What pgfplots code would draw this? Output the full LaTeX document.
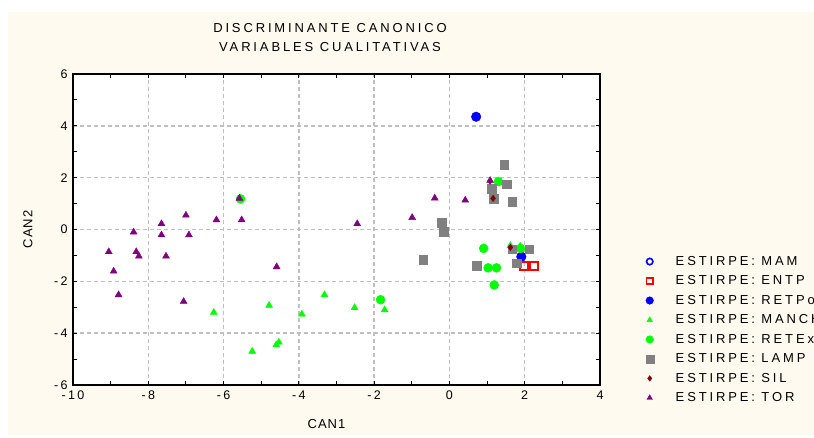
\documentclass[border=0pt]{standalone}
\usepackage{pgfplots}
\pgfplotsset{compat=1.18}
\usepackage{fontspec}
\setmainfont{Liberation Sans}
\newfontfamily\spaced{Liberation Sans}[LetterSpace=18]
\newfontfamily\spacedg{Liberation Sans}[LetterSpace=22]
\newfontfamily\spacedt{Liberation Sans}[LetterSpace=22]
\newfontfamily\spacedl{Liberation Sans}[LetterSpace=8]
\definecolor{cream}{HTML}{FFFAF0}
\definecolor{tor}{HTML}{800080}
\definecolor{sil}{HTML}{800000}
\definecolor{lgreen}{HTML}{00FF00}
\definecolor{lamp}{HTML}{808080}
\begin{document}
\begin{tikzpicture}[x=1pt,y=1pt]
\clip (0,0) rectangle (814,437);
\fill[white] (0,0) rectangle (814,437);
\fill[cream] (8,2) rectangle (814,425);
\node[font=\spacedt\fontsize{13}{15}\selectfont] at (330,409) {DISCRIMINANTE CANONICO};
\node[font=\spacedt\fontsize{13}{15}\selectfont] at (330,390) {VARIABLES CUALITATIVAS};
\begin{axis}[
  at={(73pt,52pt)}, anchor=south west,
  scale only axis, width=527pt, height=311pt,
  xmin=-10, xmax=4, ymin=-6, ymax=6,
  xtick={-10,-8,-6,-4,-2,0,2,4},
  xticklabels={-10,-8,-6,-4,-2,0,2,4},
  ytick={-6,-4,-2,0,2,4,6},
  yticklabels={-6,-4,-2,0,2,4,6},
  minor x tick num=1, minor y tick num=1,
  tick align=inside,
  major tick length=4pt, minor tick length=4pt,
  tick style={black, line width=1pt},
  axis line style={black, line width=1.8pt},
  grid=major,
  major grid style={black!25, dash pattern=on 4pt off 3pt, line width=1.4pt},
  axis background/.style={fill=white},
  ticklabel style={font=\spaced\fontsize{12.5}{14}\selectfont},
  xticklabel style={yshift=-2pt},
  yticklabel style={xshift=-2pt},
  xlabel={CAN1}, ylabel={CAN2},
  label style={font=\spacedl\fontsize{13}{15}\selectfont},
  xlabel style={at={(0.481,0)}, anchor=center, yshift=-39pt},
  ylabel style={at={(0,0.5)}, anchor=center, rotate=0, yshift=45pt},
  clip=false,
  legend style={at={(1.0864,0.421)}, anchor=north west, draw=none, fill=none,
    font=\spacedg\fontsize{13}{15}\selectfont, row sep=4.9pt, inner sep=0pt,
    /tikz/every odd column/.append style={column sep=20pt}},
  legend cell align=left,
]
% ENTP
\addplot[only marks, mark=square, mark size=4pt, red, line width=2pt, forget plot] coordinates {
(1.98,-1.39) (2.25,-1.39)};
% RETPo
\addplot[only marks, mark=*, mark size=4.8pt, blue, forget plot] coordinates {
(0.71,4.35) (1.91,-1.05)};
% MANCH
\addplot[only marks, mark=triangle*, mark size=4pt, lgreen, forget plot] coordinates {
(-6.26,-3.20) (-4.79,-2.93) (-3.92,-3.27) (-3.32,-2.52) (-2.52,-3.02) (-1.72,-3.10)
(-4.53,-4.35) (-4.60,-4.45) (-5.24,-4.70) (1.62,-0.62) (1.88,-0.65)};
% RETExt
\addplot[only marks, mark=*, mark size=4.5pt, lgreen, forget plot] coordinates {
(-5.55,1.18) (-1.83,-2.71) (1.30,1.85) (0.91,-0.73) (1.89,-0.73) (1.03,-1.48) (1.25,-1.48) (1.19,-2.14)};
% LAMP
\addplot[only marks, mark=square*, mark size=4.2pt, lamp, forget plot] coordinates {
(1.45,2.50) (1.12,1.57) (1.52,1.75) (1.18,1.19) (1.66,1.08) (-0.21,0.26) (-0.15,-0.08)
(-0.69,-1.16) (1.66,-0.75) (2.12,-0.75) (1.79,-1.31) (0.72,-1.39)};
% SIL
\addplot[only marks, mark=diamond*, mark size=3.2pt, sil, forget plot] coordinates {
(1.08,1.87) (1.16,1.20) (1.62,-0.69)};
% TOR
\addplot[only marks, mark=triangle*, mark size=4pt, tor, forget plot] coordinates {
(-5.58,1.20) (-7.00,0.55) (-6.19,0.37) (-5.52,0.37) (-7.65,0.22) (-8.39,-0.10) (-7.65,-0.21)
(-6.92,-0.21) (-9.05,-0.86) (-8.32,-0.86) (-8.25,-1.03) (-7.53,-1.03) (-8.92,-1.61)
(-8.79,-2.52) (-7.06,-2.78) (-2.45,0.22) (-4.59,-1.44) (-0.99,0.46) (-0.39,1.21) (0.42,1.13) (1.08,1.89)};
\addlegendimage{only marks, mark=o, mark size=3.2pt, blue, line width=1.6pt}
\addlegendentry{ESTIRPE: MAM}
\addlegendimage{only marks, mark=square, mark size=3.2pt, red, line width=1.8pt}
\addlegendentry{ESTIRPE: ENTP}
\addlegendimage{only marks, mark=*, mark size=3.8pt, blue}
\addlegendentry{ESTIRPE: RETPo}
\addlegendimage{only marks, mark=triangle*, mark size=3.2pt, lgreen}
\addlegendentry{ESTIRPE: MANCH}
\addlegendimage{only marks, mark=*, mark size=3.8pt, lgreen}
\addlegendentry{ESTIRPE: RETExt}
\addlegendimage{only marks, mark=square*, mark size=4pt, lamp}
\addlegendentry{ESTIRPE: LAMP}
\addlegendimage{only marks, mark=diamond*, mark size=2.8pt, sil}
\addlegendentry{ESTIRPE: SIL}
\addlegendimage{only marks, mark=triangle*, mark size=3.2pt, tor}
\addlegendentry{ESTIRPE: TOR}
\end{axis}
\end{tikzpicture}
\end{document}
